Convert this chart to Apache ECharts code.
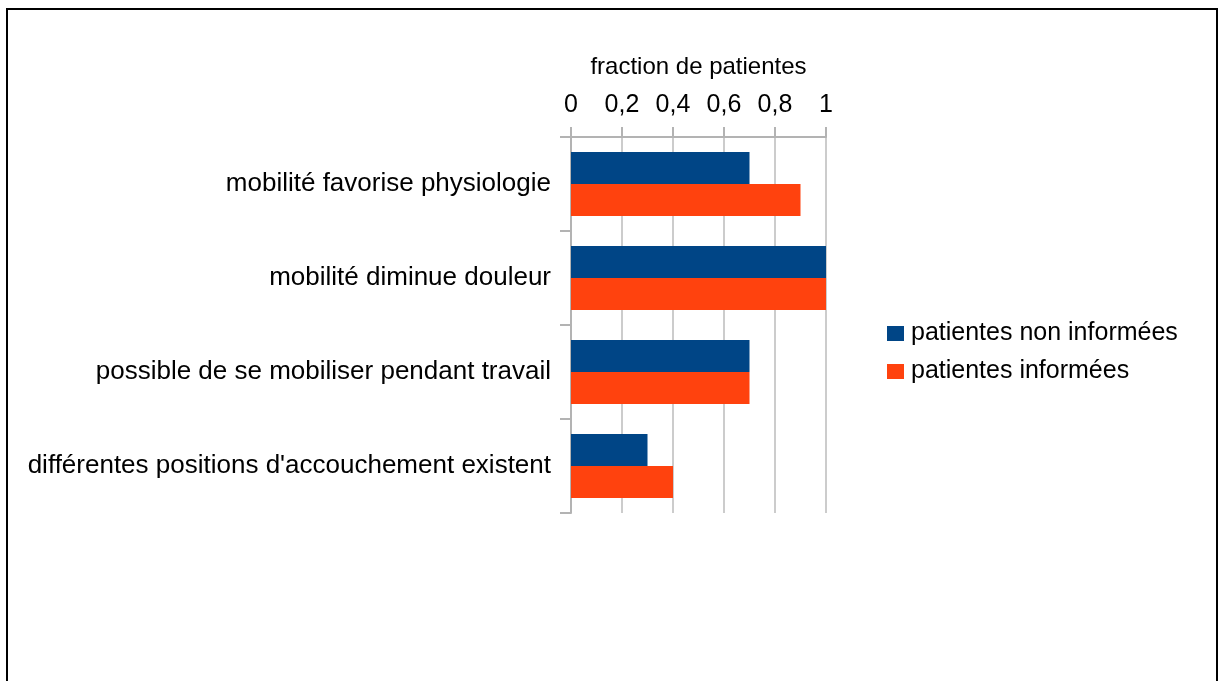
<!DOCTYPE html>
<html>
<head>
<meta charset="utf-8">
<script src="https://cdn.jsdelivr.net/npm/echarts@6/dist/echarts.min.js"></script>
<style>
    html, body { margin: 0; padding: 0; background: #fff; }
    #chart { width: 1223px; height: 681px; }
    #frame {
        position: absolute; left: 6px; top: 8px;
        width: 1208px; height: 700px;
        border: 2px solid #000; pointer-events: none;
    }
</style>
</head>
<body>
<div id="chart"></div>
<div id="frame"></div>
<script>
const categories = [
    'mobilité favorise physiologie',
    'mobilité diminue douleur',
    'possible de se mobiliser pendant travail',
    "différentes positions d'accouchement existent"
]
const nonInformees = [0.7, 1, 0.7, 0.3]
const informees = [0.9, 1, 0.7, 0.4]
const seriesNames = ['patientes non informées', 'patientes informées']

const font = '"Liberation Sans", Arial, sans-serif'
const myChart = echarts.init(document.getElementById('chart'))

const option = {
    animation: false,
    textStyle: { fontFamily: font },
    legend: {
        orient: 'vertical',
        left: 882,
        top: 316,
        itemWidth: 17,
        itemHeight: 15,
        itemGap: 13,
        icon: 'rect',
        data: seriesNames,
        textStyle: { color: '#000', fontSize: 25, fontFamily: font, padding: [0, 0, 0, 2] }
    },
    grid: {
        left: 571,
        top: 137,
        right: 397,
        bottom: 168,
        containLabel: false
    },
    xAxis: {
        type: 'value',
        position: 'top',
        min: 0,
        max: 1,
        interval: 0.2,
        name: 'fraction de patientes',
        nameLocation: 'middle',
        nameGap: 58,
        nameTextStyle: { color: '#000', fontSize: 24, fontFamily: font },
        axisLine: { show: true, lineStyle: { color: '#b3b3b3', width: 2 } },
        axisTick: { show: true, length: 10, lineStyle: { color: '#b3b3b3', width: 2 } },
        axisLabel: {
            color: '#000',
            fontSize: 25,
            margin: 19,
            fontFamily: font,
            formatter: v => String(+v.toFixed(1)).replace('.', ',')
        },
        splitLine: { show: true, lineStyle: { color: '#cccccc', width: 2 } }
    },
    yAxis: {
        type: 'category',
        inverse: true,
        data: categories,
        axisLine: { show: true, lineStyle: { color: '#b3b3b3', width: 2 } },
        axisTick: { show: true, length: 11, lineStyle: { color: '#b3b3b3', width: 2 } },
        axisLabel: { color: '#000', fontSize: 26, margin: 20, fontFamily: font }
    },
    series: [
        {
            name: seriesNames[0],
            type: 'bar',
            data: nonInformees,
            barGap: '0%',
            barCategoryGap: '32%',
            itemStyle: { color: '#004586' }
        },
        {
            name: seriesNames[1],
            type: 'bar',
            data: informees,
            barGap: '0%',
            barCategoryGap: '32%',
            itemStyle: { color: '#ff420e' }
        }
    ]
}

myChart.setOption(option)
</script>
</body>
</html>
